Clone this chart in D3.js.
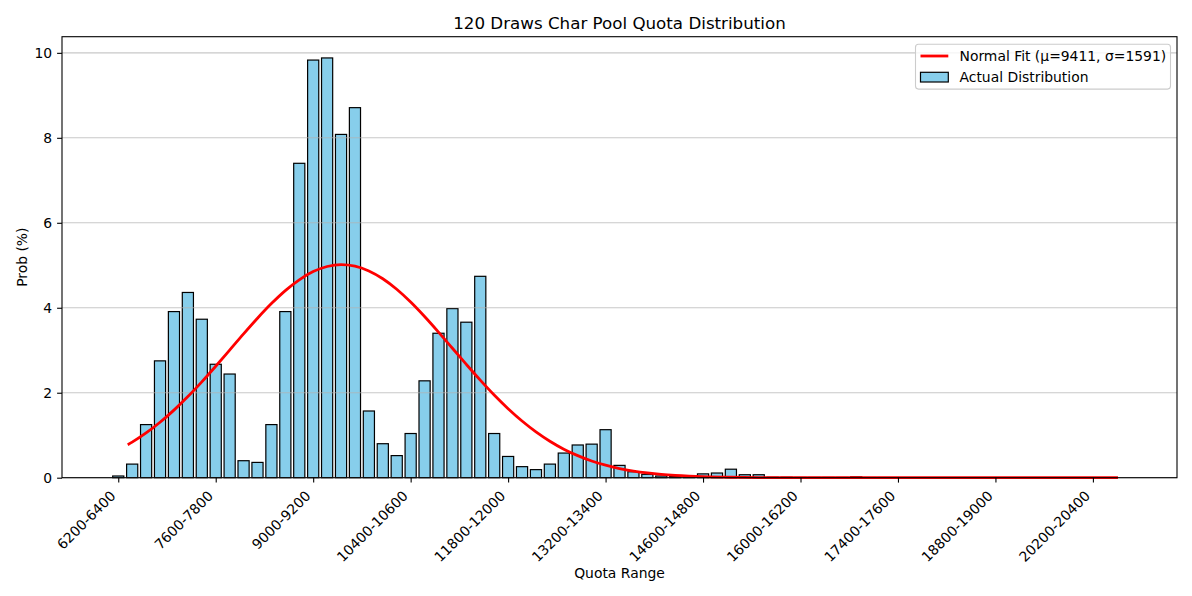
<!DOCTYPE html>
<html>
<head>
<meta charset="utf-8">
<script src="https://cdn.jsdelivr.net/npm/d3@7"></script>
<style>
  html, body { margin: 0; padding: 0; background: #fff; }
  svg { display: block; font-family: "DejaVu Sans", sans-serif; }
</style>
</head>
<body>
<svg id="chart" width="1192" height="596"></svg>
<script>
// ---------------- data ----------------
const categories = [
  "6200-6400","6400-6600","6600-6800","6800-7000","7000-7200","7200-7400","7400-7600",
  "7600-7800","7800-8000","8000-8200","8200-8400","8400-8600","8600-8800","8800-9000",
  "9000-9200","9200-9400","9400-9600","9600-9800","9800-10000","10000-10200","10200-10400",
  "10400-10600","10600-10800","10800-11000","11000-11200","11200-11400","11400-11600","11600-11800",
  "11800-12000","12000-12200","12200-12400","12400-12600","12600-12800","12800-13000","13000-13200",
  "13200-13400","13400-13600","13600-13800","13800-14000","14000-14200","14200-14400","14400-14600",
  "14600-14800","14800-15000","15000-15200","15200-15400","15400-15600","15600-15800","15800-16000",
  "16000-16200","16200-16400","16400-16600","16600-16800","16800-17000","17000-17200","17200-17400",
  "17400-17600","17600-17800","17800-18000","18000-18200","18200-18400","18400-18600","18600-18800",
  "18800-19000","19000-19200","19200-19400","19400-19600","19600-19800","19800-20000","20000-20200",
  "20200-20400","20400-20600","20600-20800"
];
// probability (%) per bin
const probValues = [
  0.04, 0.32, 1.25, 2.75, 3.91, 4.36, 3.73,
  2.67, 2.44, 0.40, 0.36, 1.25, 3.91, 7.40,
  9.83, 9.88, 8.08, 8.71, 1.57, 0.80, 0.52,
  1.04, 2.28, 3.40, 3.98, 3.66, 4.74, 1.04,
  0.50, 0.26, 0.19, 0.32, 0.58, 0.77, 0.79,
  1.13, 0.29, 0.14, 0.08, 0.04, 0.03, 0.02,
  0.09, 0.11, 0.20, 0.07, 0.07, 0.01, 0.01,
  0.005, 0.005, 0.005, 0.005, 0.02, 0.003, 0.003,
  0.002, 0.002, 0.002, 0.002, 0.002, 0.002, 0.002,
  0.002, 0.002, 0.002, 0.002, 0.002, 0.002, 0.002,
  0.002, 0.002, 0.0
];
// normal-fit curve: position (in bin index units) and value (%)
const fitPositions = [0.68, 1, 2, 3, 4, 5, 6, 7, 8, 9, 10, 11, 12, 13, 14, 15, 16, 17, 18, 19, 20,
  21, 22, 23, 24, 25, 26, 27, 28, 29, 30, 31, 32, 33, 34, 35, 36, 37, 38, 39, 40, 41, 42, 44, 46, 48, 50, 55, 60, 65, 71.8];
const fitValues = [0.775, 0.837, 1.053, 1.305, 1.591, 1.909, 2.256, 2.624, 3.003, 3.385, 3.754,
  4.098, 4.404, 4.658, 4.851, 4.971, 5.015, 4.980, 4.867, 4.683, 4.435,
  4.134, 3.793, 3.426, 3.046, 2.666, 2.296, 1.946, 1.624, 1.334, 1.079,
  0.859, 0.672, 0.519, 0.394, 0.294, 0.216, 0.157, 0.112, 0.078, 0.054,
  0.037, 0.025, 0.0105, 0.004, 0.0013, 0.0004, 0.0, 0.0, 0.0, 0.0];
const yTicks = [0, 2, 4, 6, 8, 10];
const xTickEvery = 7;
const titleText = "120 Draws Char Pool Quota Distribution";
const xLabelText = "Quota Range";
const yLabelText = "Prob (%)";
const legendLabels = ["Normal Fit (\u03bc=9411, \u03c3=1591)", "Actual Distribution"];

// ---------------- layout ----------------
const svg = d3.select("#chart");
const L = 62, R = 1177, T = 36.7, B = 477.7;
const FS = 13.9;

const x = d3.scaleLinear().domain([-4.04, categories.length - 1 + 4.04]).range([L, R]);
const y = d3.scaleLinear().domain([0, 10.38]).range([B, T]);

// bars
const barW = x(0.8) - x(0);
svg.append("g").selectAll("rect").data(probValues).join("rect")
  .attr("x", (d, i) => x(i - 0.4))
  .attr("y", d => y(d))
  .attr("width", barW)
  .attr("height", d => B - y(d))
  .attr("fill", "#87CEEB")
  .attr("stroke", "#000")
  .attr("stroke-width", 1.2);

// grid (drawn above bars, as in the reference)
svg.append("g").selectAll("line").data(yTicks).join("line")
  .attr("x1", L).attr("x2", R)
  .attr("y1", d => y(d)).attr("y2", d => y(d))
  .attr("stroke", "#b0b0b0").attr("stroke-opacity", 0.7).attr("stroke-width", 1.1);

// normal fit line
const fitData = fitPositions.map((p, i) => [p, fitValues[i]]);
svg.append("path").datum(fitData)
  .attr("fill", "none").attr("stroke", "#ff0000").attr("stroke-width", 2.8)
  .attr("stroke-linejoin", "round")
  .attr("d", d3.line().x(d => x(d[0])).y(d => y(d[1])).curve(d3.curveMonotoneX));

// spines
svg.append("rect").attr("x", L).attr("y", T).attr("width", R - L).attr("height", B - T)
  .attr("fill", "none").attr("stroke", "#000").attr("stroke-width", 1.1);

// x axis
const xTickVals = d3.range(0, categories.length, xTickEvery);
const xAxis = d3.axisBottom(x).tickValues(xTickVals).tickFormat(i => categories[i])
  .tickSize(4.9).tickPadding(0);
const gx = svg.append("g").attr("transform", `translate(0,${B})`).call(xAxis);
gx.select(".domain").remove();
gx.selectAll(".tick line").attr("stroke", "#000").attr("stroke-width", 1.1);
gx.selectAll(".tick text")
  .attr("font-size", FS).attr("font-family", "DejaVu Sans, sans-serif").attr("fill", "#000")
  .attr("text-anchor", "end")
  .attr("dy", null).attr("y", null)
  .attr("transform", "translate(-2.3,19) rotate(-45)");

// y axis
const yAxis = d3.axisLeft(y).tickValues(yTicks).tickSize(4.9).tickPadding(4.9);
const gy = svg.append("g").attr("transform", `translate(${L},0)`).call(yAxis);
gy.select(".domain").remove();
gy.selectAll(".tick line").attr("stroke", "#000").attr("stroke-width", 1.1);
gy.selectAll(".tick text").attr("font-size", FS).attr("font-family", "DejaVu Sans, sans-serif").attr("fill", "#000");

// title & labels
svg.append("text").attr("x", (L + R) / 2).attr("y", 28.5).attr("text-anchor", "middle")
  .attr("font-size", 16.7).text(titleText);
svg.append("text").attr("x", (L + R) / 2).attr("y", 578).attr("text-anchor", "middle")
  .attr("font-size", FS).text(xLabelText);
svg.append("text").attr("transform", `translate(26.5,${(T + B) / 2}) rotate(-90)`)
  .attr("text-anchor", "middle").attr("font-size", FS).text(yLabelText);

// legend
const lg = svg.append("g");
lg.append("rect").attr("x", 915.5).attr("y", 44.3).attr("width", 255).attr("height", 44.8)
  .attr("rx", 3).attr("fill", "#fff").attr("fill-opacity", 0.8)
  .attr("stroke", "#cccccc").attr("stroke-width", 1.1);
lg.append("line").attr("x1", 920.5).attr("x2", 948.3).attr("y1", 56).attr("y2", 56)
  .attr("stroke", "#ff0000").attr("stroke-width", 2.8);
lg.append("text").attr("x", 959.5).attr("y", 60.8).attr("font-size", FS).text(legendLabels[0]);
lg.append("rect").attr("x", 920.5).attr("y", 72.3).attr("width", 27.8).attr("height", 9.7)
  .attr("fill", "#87CEEB").attr("stroke", "#000").attr("stroke-width", 1.2);
lg.append("text").attr("x", 959.5).attr("y", 81.6).attr("font-size", FS).text(legendLabels[1]);
</script>
</body>
</html>
